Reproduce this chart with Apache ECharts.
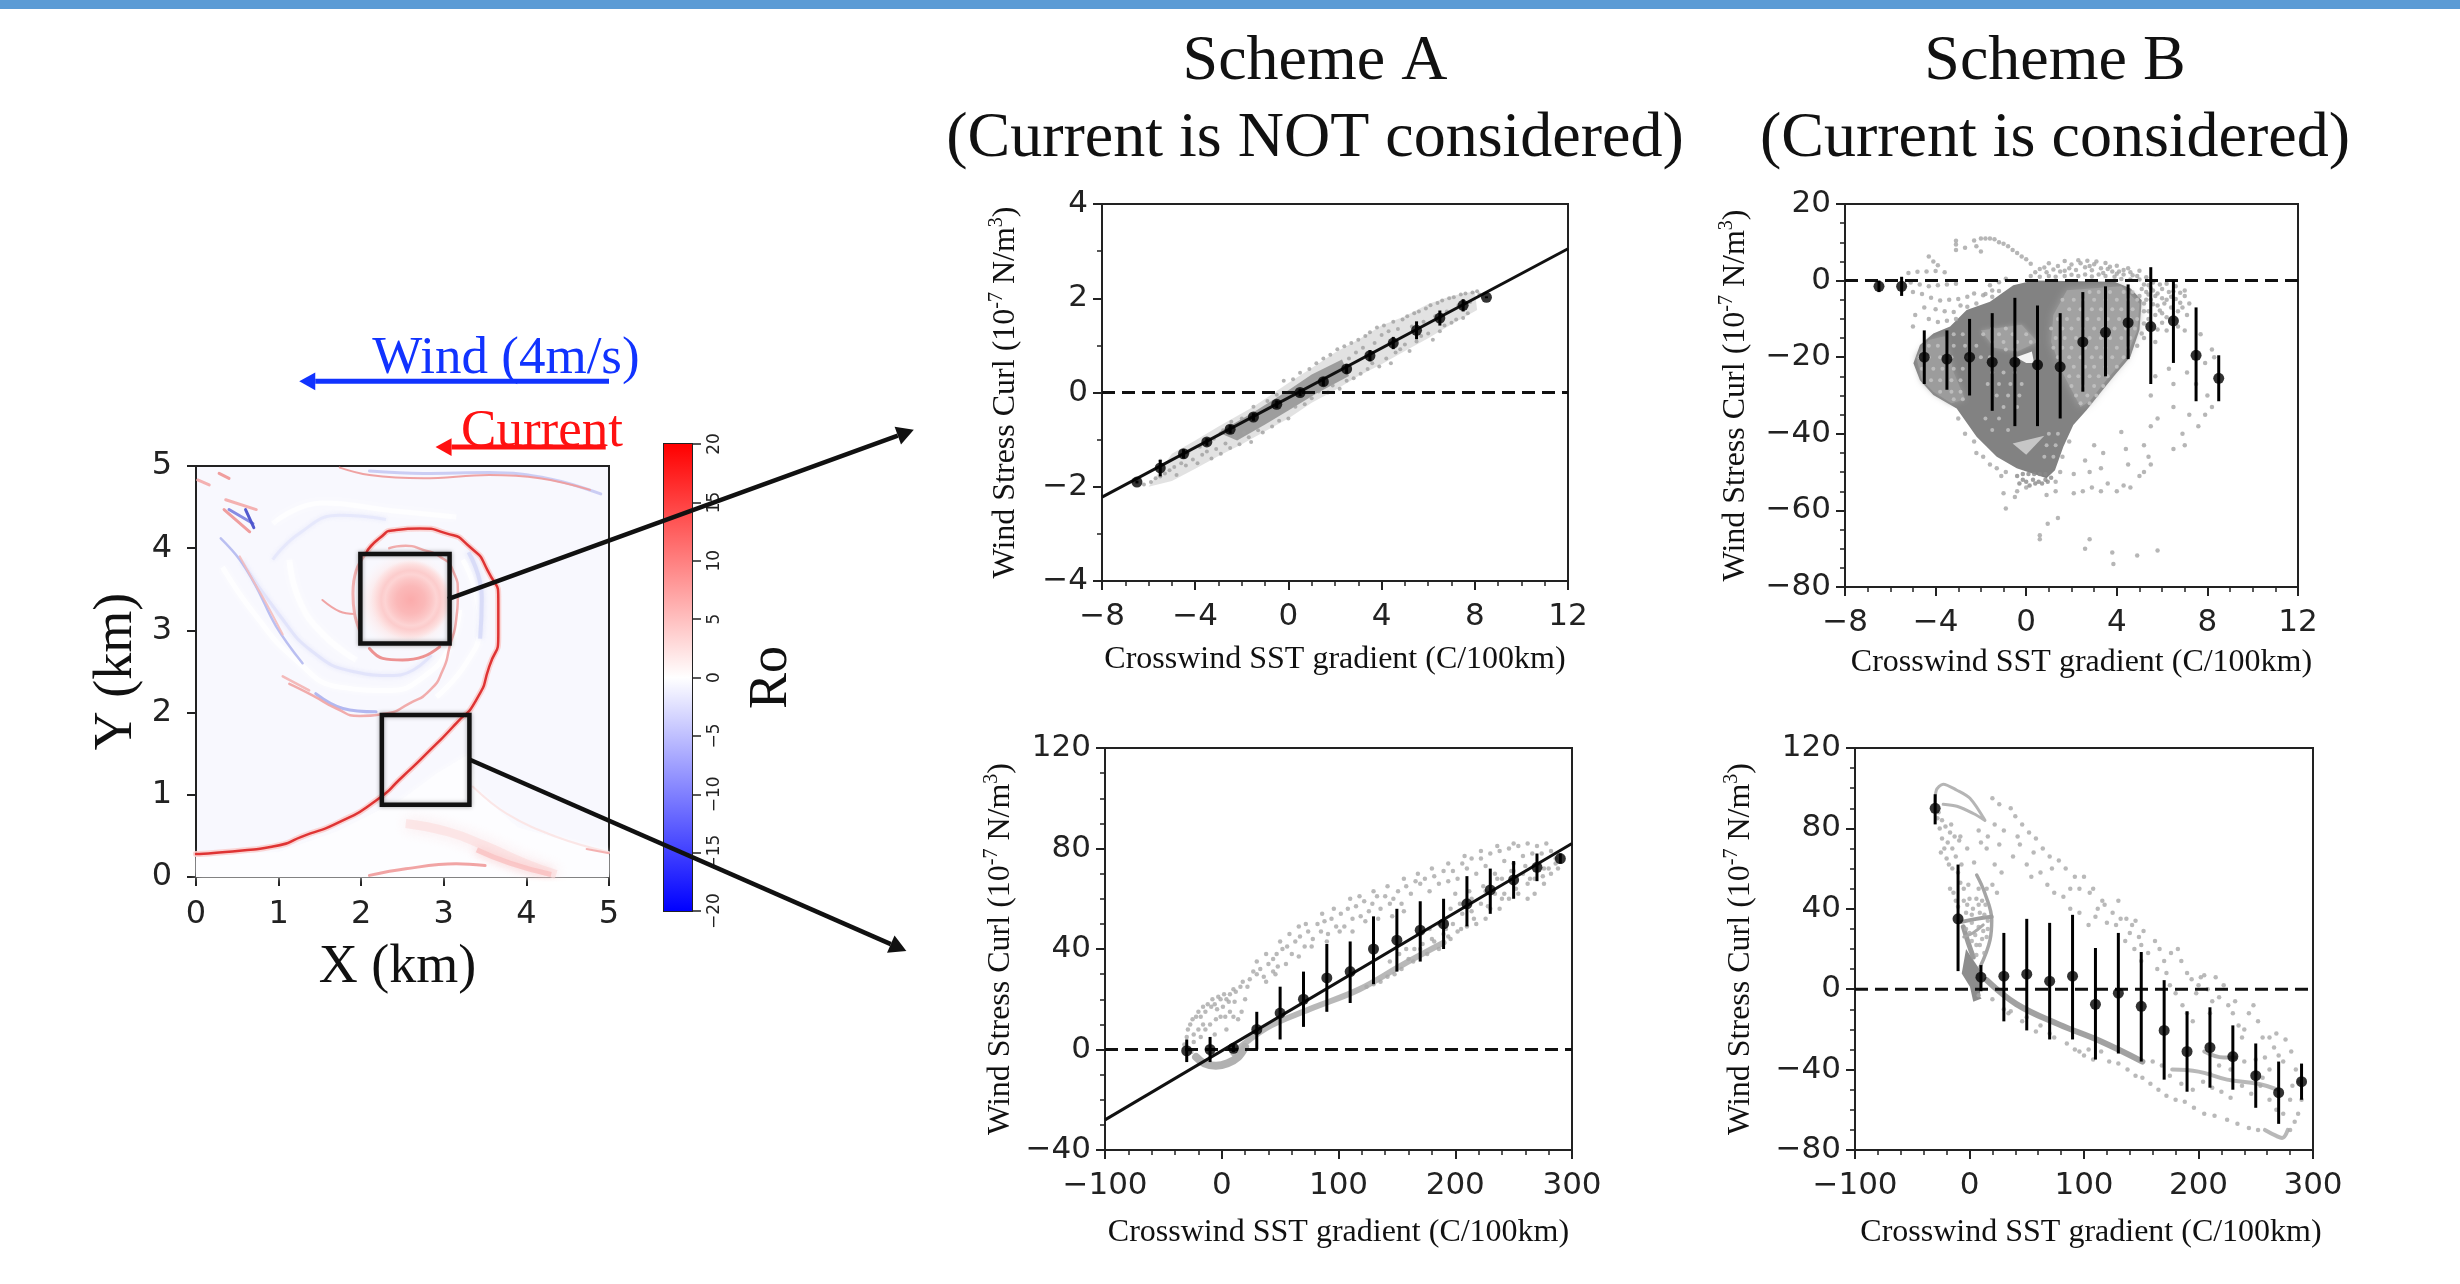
<!DOCTYPE html>
<html><head><meta charset="utf-8">
<script src="https://cdn.jsdelivr.net/npm/echarts@6/dist/echarts.min.js"></script>
<style>html,body{margin:0;padding:0;background:#fff}#c{width:2460px;height:1284px}</style>
</head><body><div id="c"></div>
<script>
// ---------- text ----------
const titleA = 'Scheme A\n(Current is NOT considered)';
const titleB = 'Scheme B\n(Current is considered)';
const xName = 'Crosswind SST gradient (C/100km)';
const yName = '{a|Wind Stress Curl (10}{s|-7}{a| N/m}{s|3}{a|)}';

// ---------- panel bins: x, mean, low, high ----------
const topBins = [-6.5,-5.5,-4.5,-3.5,-2.5,-1.5,-0.5,0.5,1.5,2.5,3.5,4.5,5.5,6.5,7.5,8.5];
const botBins = [-30,-10,10,30,50,70,90,110,130,150,170,190,210,230,250,270,290];

const a1Mean = [-1.9,-1.6,-1.3,-1.05,-0.78,-0.52,-0.25,0,0.23,0.5,0.78,1.05,1.32,1.58,1.85,2.02];
const a1Low  = [-1.93,-1.78,-1.4,-1.13,-0.87,-0.6,-0.33,-0.08,0.14,0.4,0.66,0.92,1.13,1.42,1.72,2.0];
const a1High = [-1.87,-1.43,-1.2,-0.97,-0.69,-0.44,-0.17,0.08,0.32,0.6,0.9,1.18,1.51,1.74,1.98,2.04];
const a1Fit  = [[-8,-2.22],[12,3.05]];

const b1Mean = [-1.5,-1.5,-20,-20.5,-20,-21.3,-21.3,-22,-22.5,-16,-13.5,-11,-12,-10.5,-19.5,-25.5];
const b1Low  = [-3,-4,-27,-28.5,-30,-34,-38,-38,-36,-29,-25,-20.5,-27,-21.5,-31.5,-31.5];
const b1High = [0,1,-13,-13,-10,-8.5,-4.5,-6.5,-8.5,-3,-1.5,-1,3.5,0,-7,-19.5];

const a2Mean = [-0.5,0,0.5,8,14.5,20,28.5,31,40,43.5,47.5,50,58,63.5,67.5,72.5,76];
const a2Low  = [-5,-5,-1,0,4,9,15,18.5,26,31,35,40,49,54,60,67,74];
const a2High = [4,5,2,15,25,31,42,43,53,56,59,60,69,72,75,78,78];
const a2Fit  = [[-100,-28],[300,82]];

const b2Mean = [90,35,6,6.5,7.5,4,6.5,-7.5,-2,-8.5,-20.5,-31,-29,-33.5,-43,-51.5,-46];
const b2Low  = [82,9,-1,-16,-20.5,-25,-25,-35,-32,-36,-45,-51,-49,-50,-59,-67,-55];
const b2High = [97,62,12,28,35,33,37,20.5,28,18.5,4.5,-11,-9,-18,-27,-36,-37];

// ---------- scatter clouds ----------
const a1Band = [[-6,-2],[-5,-1.3],[-4,-1.02],[-3,-0.72],[-1.5,-0.3],[0,0.2],[1,0.52],[2,0.85],[3,1.12],[4,1.42],[5,1.62],[6,1.88],[7,2.05],[8,2.15],[8.1,1.75],[7,1.45],[6,1.15],[5,0.88],[4,0.6],[3,0.35],[2,0.05],[1,-0.22],[0,-0.55],[-1,-0.82],[-2,-1.1],[-3,-1.35],[-4,-1.62],[-5,-1.88]];
const a1Core = [[-3,-0.85],[-1.5,-0.42],[0,0.05],[1,0.38],[2.3,0.7],[2.6,0.35],[1.2,-0.02],[0,-0.38],[-1,-0.68],[-2.2,-1.02]];
const a1Dots = [[-6.2,-1.95],[-5.9,-1.9],[-5.7,-1.82],[-5.5,-1.78],[-5.3,-1.72],[-5.5,-1.45],[-5.1,-1.65],[-4.9,-1.58],[-4.8,-1.75],[-4.6,-1.5],[-4.4,-1.55],[-4.3,-1.28],[-4.1,-1.42],[-3.9,-1.5],[-3.8,-1.15],[-3.7,-1.32],[-3.5,-1.25],[-3.3,-1.4],[-3.2,-0.98],[-3.1,-1.2],[-2.9,-1.3],[-2.8,-0.8],[-2.7,-1.08],[-2.5,-1.18],[-2.45,-0.62],[-2.3,-0.95],[-2.1,-1.1],[-2,-0.55],[-1.9,-0.85],[-1.7,-0.95],[-1.6,-1.05],[-1.5,-0.3],[-1.3,-0.8],[-1.1,-0.85],[-0.9,-0.18],[-0.7,-0.72],[-0.5,-0.05],[-0.4,-0.6],[-0.2,0.25],[0,-0.55],[0.2,0.28],[0.3,-0.3],[0.5,0.42],[0.7,-0.25],[0.9,0.5],[1,-0.12],[1.2,0.62],[1.3,0.02],[1.5,0.72],[1.7,0],[1.8,0.8],[1.9,0.15],[2.1,0.92],[2.2,0.08],[2.4,0.98],[2.5,0.25],[2.6,0.72],[2.7,1.05],[2.8,0.3],[2.9,0.85],[3,1.12],[3.1,0.4],[3.2,0.95],[3.3,1.2],[3.4,0.5],[3.5,1.28],[3.6,0.62],[3.7,1.05],[3.8,1.38],[3.9,0.55],[4,1.22],[4.1,1.42],[4.2,0.72],[4.3,1.3],[4.4,0.62],[4.5,1.5],[4.6,0.85],[4.7,1.35],[4.8,0.92],[4.9,1.55],[5,1.02],[5.1,1.62],[5.2,0.88],[5.3,1.4],[5.4,1.68],[5.5,1.08],[5.6,1.72],[5.7,1.2],[5.8,1.5],[5.9,1.78],[6,1.25],[6.1,1.85],[6.2,1.12],[6.3,1.62],[6.4,1.9],[6.5,1.3],[6.6,1.95],[6.7,1.42],[6.8,1.72],[6.9,2],[7,1.48],[7.1,2.02],[7.2,1.55],[7.3,1.85],[7.4,2.08],[7.5,1.58],[7.6,2.1],[7.7,1.68],[7.8,1.92],[7.9,2.12],[8.1,2.15],[8.2,2.08]];

const b1Blob = [[-4.98,-21.6],[-4.69,-16.8],[-4.1,-13.8],[-3.36,-12],[-2.63,-7.7],[-1.6,-5.5],[-0.57,-1.2],[0.32,0],[3.9,-0.3],[4.6,-2],[5.1,-5.1],[5,-12.9],[4.6,-19.9],[3.85,-25.1],[3.26,-29.4],[2.67,-33.8],[2.08,-37.7],[1.64,-43.4],[1.27,-49.5],[0.9,-51.6],[-0.42,-49],[-1.3,-46],[-2.19,-40.8],[-3.07,-33.4],[-4.1,-29.9],[-4.69,-26]];
const b1RightZone = [[1.8,-2.5],[4.2,-1.5],[5,-6],[4.9,-13],[4.4,-20],[3.6,-25.5],[2.8,-31.5],[2.4,-33],[1.6,-24],[1.1,-16],[1.2,-9]];
const b1LeftZone = [[-4.85,-20],[-4.3,-15.5],[-3.6,-14.5],[-3.2,-24],[-2.7,-31],[-3.3,-32],[-4.1,-29],[-4.6,-26]];
const b1MidZone = [[-2,-13],[-0.2,-11.5],[0.5,-16],[-0.4,-18.5],[-1.4,-17.5]];
const b1Hole = [[-0.45,-20],[0.25,-18.5],[0.35,-21.5],[0,-21.5]];
const b1Vee = [[-0.6,-42.5],[0.8,-40.5],[0,-45.5]];
const b1Speck = [[2.8,-3],[3.2,-3],[3.7,-3],[4.3,-3],[4.7,-3],[1.6,-5],[2.1,-5],[2.5,-5],[3,-5],[3.5,-5],[4,-5],[4.5,-5],[4.9,-5],[1.9,-7.5],[2.4,-7.5],[2.9,-7.5],[3.3,-7.5],[3.8,-7.5],[4.2,-7.5],[4.7,-7.5],[1.4,-10],[1.8,-10],[2.3,-10],[2.7,-10],[3.2,-10],[3.6,-10],[4.1,-10],[4.6,-10],[4.9,-10],[1.1,-12.5],[1.6,-12.5],[2,-12.5],[2.5,-12.5],[3,-12.5],[3.4,-12.5],[3.9,-12.5],[4.4,-12.5],[4.8,-12.5],[1.3,-15],[1.7,-15],[2.2,-15],[2.8,-15],[3.3,-15],[3.7,-15],[4.2,-15],[4.6,-15],[1.2,-17.5],[1.6,-17.5],[2,-17.5],[2.6,-17.5],[3.1,-17.5],[3.5,-17.5],[4,-17.5],[4.5,-17.5],[1.4,-20],[1.9,-20],[2.4,-20],[2.9,-20],[3.3,-20],[3.8,-20],[4.3,-20],[1.5,-22.5],[2.1,-22.5],[2.6,-22.5],[3,-22.5],[3.5,-22.5],[4,-22.5],[1.9,-25],[2.3,-25],[2.8,-25],[3.2,-25],[3.6,-25],[2,-27.5],[2.5,-27.5],[3,-27.5],[3.4,-27.5],[2.2,-30],[2.7,-30],[3.1,-30],[2.4,-32],[2.8,-32],[-1.5,-12.5],[-0.9,-12.5],[-1.9,-14],[-1.2,-14],[-0.6,-14],[0,-14],[-1.5,-16],[-1,-16],[-0.4,-16],[0.2,-16],[-0.9,-18],[-0.5,-18],[-4.3,-17],[-3.9,-17],[-4.7,-20],[-4.3,-20],[-3.8,-20],[-3.3,-20],[-4.6,-23],[-4.1,-23],[-3.7,-23],[-3.2,-23],[-2.8,-23],[-4.2,-26],[-3.8,-26],[-3.3,-26],[-2.9,-26],[-3.8,-29],[-3.3,-29],[-2.9,-29],[-3.2,-31],[-2.8,-31],[-3.2,-14],[-2.8,-14],[-3.2,-17],[-2.7,-17],[-2.2,-17],[-2.6,-20],[-2,-20],[-1.6,-20],[-1.5,-24],[-1,-24],[-0.5,-24],[-1.7,-27],[-1.2,-27],[-0.7,-27],[-0.2,-27],[-1.3,-30],[-0.8,-30],[-0.3,-30],[-1,-33],[-0.4,-33],[-1.8,-36],[-1.2,-36],[-1.5,-39],[-0.8,-39],[1,-40],[1.4,-40],[0.9,-43],[1.3,-43],[0.8,-46],[1.2,-46]];
const b1Dots = [[-3.1,10.4],[-3.1,9.4],[-3.1,8],[-2.3,10.5],[-2,11],[-1.8,11],[-1.6,11],[-1.4,10.8],[-1.2,10],[-1,9.6],[-0.8,9],[-0.6,8],[-0.4,7.2],[-0.2,6.3],[0,5.6],[-2.2,9],[-2,7.6],[-2.7,8.6],[-4.3,6.3],[-4.1,5],[-3.9,4],[-5.2,2],[-4.8,2.3],[-4.4,2.4],[-4,2.5],[-3.6,2.2],[-5.1,-0.5],[-4.7,-1],[-4.3,-1.5],[-3.9,-1.2],[-3.5,-1],[-3.1,-0.8],[-5,-3],[-4.6,-3.5],[-4.2,-4.5],[-3.8,-5.2],[-3.4,-5],[-3,-4.8],[-2.6,-4.2],[-2.3,-3.4],[-4.5,-7],[-4,-7.5],[-3.6,-8],[-3.2,-8.2],[-2.9,-6.5],[-2.6,-6.8],[-4.9,-9],[-4.3,-10],[-3.9,-10.8],[-3.5,-10.5],[-3.1,-10],[-5,-12],[-1.9,-3.8],[-1.5,-4.2],[-1.2,-2.7],[-1.6,-1.2],[-1.2,-0.4],[-0.9,0.5],[-2.2,-6],[-1.8,-3.5],[-1.5,-2.6],[0.2,4.4],[0.6,3],[0.9,2.2],[1,4.5],[1.4,3.8],[1.7,2.6],[1.7,5.1],[2,4.2],[2.3,5.3],[2.6,3.5],[2.7,5.2],[3,4.3],[3.3,3.2],[3.5,4.6],[3.8,2.4],[4,3.9],[4.3,1.6],[4.5,3.2],[4.7,1.4],[5,2.6],[5.3,0.9],[0.2,1.2],[0.6,1],[1,1.2],[1.3,1],[1.7,1.2],[2,1.5],[2.3,1.2],[2.6,1.6],[2.9,1.1],[3.2,1.6],[3.5,1.2],[3.9,1],[4.2,0.4],[4.6,0.3],[5,0.3],[1.5,2.4],[2.2,2.8],[2.9,2.7],[3.6,3],[4.1,2.4],[0.4,2.2],[0.8,3.4],[1.2,2.9],[1.9,3.2],[2.4,4.5],[2.8,3.8],[3.1,5],[3.4,2],[3.7,3.6],[4,1.8],[4.3,2.8],[4.6,2.2],[4.9,1.2],[5.5,-2],[5.7,-4],[5.9,-1],[6.1,-6],[6.3,-3],[6.6,-4.8],[6.9,-7],[7.1,-9],[5.3,-3],[5.2,-6],[5.5,-5],[5.8,-6.5],[5.4,-8],[6,-8.5],[6.4,-7],[6.7,-8],[5.2,-1],[5.6,-0.5],[6.2,-0.8],[6.6,-1.5],[7,-4],[7.2,-6],[5,-4],[5.2,-8],[5.4,-10],[5.7,-9],[6,-11],[6.2,-13],[6.7,-12],[7,-13],[5.1,-2.2],[5.4,-1.2],[5.4,-3.6],[5.6,-2.6],[5.8,-3.4],[6,-2.2],[6,-4.6],[6.2,-5],[6.4,-4.2],[6.5,-2.8],[6.8,-3.2],[6.8,-5.8],[7,-2.6],[5.3,-5],[5.6,-6.2],[5.9,-7.8],[6.2,-9.6],[6.5,-10.2],[5.2,-11.2],[5.5,-12],[5.8,-12.8],[5.1,-13.8],[7.7,-14],[8.2,-18],[8.3,-20],[7.9,-21.5],[5.7,-16],[5.2,-15],[4.9,-17],[6.3,-23],[6.5,-27],[5.7,-25],[7.1,-24],[7.5,-27],[8,-30],[8.2,-33],[7.9,-35],[6.5,-33],[7.2,-35],[7.6,-38],[5.8,-36],[5.5,-30],[5.5,-38],[6.9,-40],[7,-43],[6.5,-44],[5.4,-46],[4.2,-39.5],[4.4,-44],[5.2,-43],[3.4,-45],[3.3,-49],[4.5,-48],[5.5,-48],[5,-51],[5.2,-50],[3,-43],[2.6,-47],[2.1,-50.5],[2.8,-50],[2.1,-55.5],[2.5,-55],[2.9,-54],[3.3,-55],[3.6,-53],[4,-55],[4.3,-53.5],[4.6,-54],[1.3,-55],[0.9,-56],[-0.4,-55],[0,-54],[-1,-55.5],[-0.5,-56.5],[-0.9,-59.5],[0.95,-63.5],[1.4,-62],[0.6,-66.5],[0.6,-67.5],[2.6,-70],[2.8,-67.5],[3.8,-71],[3.85,-74],[4.9,-71.8],[5.8,-70.5],[-3,-36],[-2.7,-40],[-2.3,-42],[-2.2,-45],[-1.9,-46],[-1.6,-48],[-1.3,-49],[-1.1,-51],[-0.9,-50],[1.6,-46],[1.9,-42],[1.5,-50],[1.3,-52.5]];
const b1Fan = [[-0.3,-53],[-0.15,-52],[0,-52.5],[0.15,-53.5],[0.3,-52],[0.4,-53],[0.55,-52.5],[0.7,-53],[0.85,-52],[0.95,-52.5],[1.1,-51.5],[-0.4,-51],[-0.15,-50.5],[0.1,-50.5],[0.35,-50.5],[0.6,-50.5],[0.85,-50.5]];

const a2Crescent = [[-22,-3],[-15,-5.5],[-5,-6.5],[5,-5.5],[14,-3],[20,1]];
const a2Lower = [[10,-1.5],[38,8.5],[75,16],[118,24],[154,33.5],[190,42.5]];
const a2Dots = [[-32,2],[-30,5],[-29,8],[-27,10],[-25,12],[-22,13],[-20,15],[-18,13],[-16,17],[-14,15],[-12,18],[-9,17],[-8,20],[-6,18],[-3,21],[-1,20],[2,22],[4,20],[7,22],[10,24],[-24,6],[-18,5],[-14,8],[-10,10],[-5,12],[-1,13],[3,13],[7,15],[10,13],[14,12],[11,19],[17,15],[20,20],[24,28],[27,31],[30,30],[33,32],[36,29],[40,34],[44,36],[47,38],[44,31],[48,33],[52,40],[56,41],[60,38],[63,43],[67,45],[71,41],[74,47],[78,44],[82,50],[85,47],[88,51],[91,46],[94,52],[98,49],[102,54],[105,49],[108,56],[112,52],[115,57],[119,53],[122,59],[126,55],[129,58],[133,61],[136,56],[140,61],[144,58],[147,60],[151,63],[154,58],[158,65],[162,62],[166,67],[170,66],[174,68],[178,63],[182,69],[186,66],[190,71],[194,67],[198,71],[202,68],[206,74],[210,72],[214,76],[218,70],[222,76],[226,73],[230,78],[234,70],[238,79],[242,75],[246,80],[250,74],[254,81],[258,77],[262,82],[266,78],[270,81],[274,78],[278,82],[282,79],[286,76],[288,72],[282,70],[276,66],[272,74],[268,68],[262,66],[258,70],[254,62],[250,66],[246,60],[242,62],[238,56],[234,62],[230,56],[226,52],[222,58],[218,50],[214,55],[210,49],[206,54],[202,47],[198,50],[194,45],[190,46],[186,40],[180,44],[176,38],[170,40],[164,35],[160,36],[154,32],[148,30],[142,29],[136,27],[130,26],[124,25],[262,60],[268,62],[275,69],[280,72],[286,74],[38,27],[46,30],[55,34],[66,37],[77,41],[90,43],[101,47],[112,47],[123,51],[134,52],[146,53],[156,55],[200,62],[212,63],[224,65],[236,68],[248,71],[260,73],[196,44],[205,48],[216,52],[228,57],[240,60],[252,64],[264,68],[276,72],[165,40],[172,42],[182,43],[192,48],[-28,0],[-26,-1],[-24,3],[-20,8],[-16,10],[-6,6],[4,8],[-4,16],[1,17],[6,19],[12,23],[16,25],[22,25],[18,27],[30,35],[38,38],[50,43],[58,46],[66,49],[72,50],[86,54],[96,56],[110,60],[118,61],[130,63],[142,65],[156,68],[168,70],[180,72],[194,74],[208,77],[222,79],[236,81],[250,82],[144,35],[152,38],[158,40],[168,46],[178,48],[186,50],[196,56],[204,58],[214,60],[226,63],[240,68],[250,71]];

const b2WedgeDark = [[-6.8,7.8],[-3,20],[0.4,17],[9.2,9.5],[9.2,-3.8],[10.6,-4.6],[3.3,-6.3],[0.4,1.2]];
const b2Mesh1 = [[-6.8,33.5],[6,35],[19.4,36]];
const b2Mesh2 = [[-5.4,31],[-1,23],[3.3,16]];
const b2Mesh3 = [[-5,26],[3,28],[12,32]];
const b2Arc = [[6.3,56.8],[13.5,47.6],[19.4,34.4],[17.9,24.4],[9.2,11]];
const b2LoopTop = [[-30,92],[-29,99],[-23,102],[-11,99],[0.4,95],[13.5,84],[3.3,87.4],[-11,91],[-23,92]];
const b2LowerLine = [[15,4.5],[41,-7.4],[78,-17.5],[115,-26],[151,-36]];
const b2Lower2 = [[177,-40],[200,-41],[225,-45],[252,-47],[269,-50]];
const b2Bottom = [[258,-70],[268,-73],[273,-74],[278,-70]];
const b2Inner = [[205,-31],[222,-34],[232,-34]];
const b2Dots = [[-28,85],[-26,80],[-24,75],[-22,70],[-20,65],[-18,62],[-15,70],[-12,66],[-10,58],[-8,53],[-5,50],[-17,50],[-14,48],[-12,44],[-10,41],[-2,42],[2,37],[6,45],[8,50],[-27,88],[-24,84],[-21,81],[-17,78],[-13,76],[-9,74],[-19,73],[-25,68],[-15,60],[-7,62],[11,44],[15,50],[20,52],[24,48],[20,95],[26,92],[36,90],[40,86],[46,82],[52,78],[58,75],[64,70],[70,66],[78,64],[84,60],[92,56],[96,50],[100,56],[105,48],[108,50],[112,40],[116,44],[120,33],[125,38],[128,32],[132,35],[137,35],[140,28],[145,34],[148,26],[152,29],[156,18],[162,24],[166,20],[170,14],[176,18],[182,20],[185,14],[190,8],[194,5],[198,-2],[202,6],[205,7],[208,0],[212,-6],[215,6],[218,-4],[222,2],[226,-8],[230,-12],[235,-18],[238,-24],[244,-12],[248,-8],[252,-16],[256,-24],[258,-34],[262,-40],[266,-29],[270,-33],[276,-25],[281,-31],[285,-40],[288,-46],[290,-55],[287,-62],[284,-66],[280,-70],[8,-3],[20,-5],[30,-10],[36,-11],[50,-14],[62,-18],[70,-22],[85,-27],[92,-30],[100,-33],[108,-35],[115,-31],[122,-36],[130,-37],[138,-40],[145,-43],[151,-44],[158,-47],[165,-50],[172,-53],[180,-55],[188,-56],[196,-59],[205,-62],[214,-63],[225,-65],[234,-67],[244,-69],[252,-70],[160,-36],[168,-38],[175,-43],[185,-47],[195,-50],[204,-46],[212,-49],[220,-51],[228,-54],[238,-48],[246,-52],[250,-42],[254,-48],[210,-42],[218,-38],[228,-40],[240,-36],[250,-35],[256,-44],[262,-55],[268,-60],[274,-62],[280,-55],[15,70],[22,62],[28,58],[16,76],[22,82],[26,72],[10,73],[4,63],[-2,70],[-8,76],[-16,82],[8,79],[44,72],[38,66],[50,62],[54,56],[62,58],[68,52],[74,48],[82,46],[88,40],[96,38],[104,32],[130,44],[136,24],[144,20],[150,14],[175,2],[180,-2],[186,-8],[190,-12],[195,-16],[30,79],[42,76],[56,68],[72,60],[88,50],[110,36],[118,42],[142,32],[150,22],[164,10],[172,8],[200,2],[210,-12],[232,-6],[240,-20],[262,-24],[268,-22],[274,-36],[282,-48],[34,-12],[46,-16],[58,-21],[74,-24],[96,-31],[104,-30]];
const b2WedgeDots = [[0,45],[3,40],[8,42],[-3,38],[2,33],[8,31],[13,37],[12,29],[16,30],[5,27],[9,22],[13,18],[6,17],[-1,52],[-5,44],[0,28],[-3,30],[2,24],[9,38],[14,42],[16,34],[11,25],[6,22],[15,26]];

// ---------- map panel (km) ----------
const mapSpiral = [[0,0.28],[0.53,0.32],[0.93,0.37],[1.33,0.51],[1.74,0.67],[2.18,0.93],[2.5,1.22],[2.83,1.54],[3.15,1.87],[3.39,2.15],[3.55,2.56],[3.66,2.96],[3.66,3.33],[3.53,3.73],[3.31,4.02],[3.03,4.18],[2.71,4.24],[2.42,4.22],[2.22,4.12],[2.06,3.94]];
const mapSpiralEnd = [[2.06,3.94],[1.94,3.73],[1.9,3.45],[1.92,3.2],[1.98,3]];
const mapInner = [[2.34,4],[2.54,4.03],[2.75,3.98],[2.95,3.9],[3.11,3.73],[3.17,3.45],[3.15,3.13],[3.07,2.8],[2.99,2.52],[2.83,2.27],[2.58,2.11],[2.3,1.99],[1.98,1.96],[1.7,2.05],[1.41,2.21],[1.13,2.35]];
const mapUnder = [[2.1,2.78],[2.26,2.66],[2.5,2.64],[2.75,2.68],[2.95,2.8]];
const mapStem = [[1.53,3.37],[1.74,3.23],[1.92,3.2]];
const mapRedLeft = [[0.53,3.9],[0.69,3.61],[0.85,3.33],[1.05,2.95]];
const mapBlueLeft = [[0.3,4.12],[0.53,3.86],[0.73,3.53],[0.97,3.05],[1.29,2.6]];
const mapBlueLow = [[1.45,2.23],[1.78,2.05],[2.18,2.01]];
const mapRedLow = [[1.05,2.44],[1.37,2.27]];
const mapTopRed = [[1.74,4.98],[2.1,4.89],[2.75,4.85],[3.55,4.89],[4.16,4.85],[4.77,4.71]];
const mapTopBlue = [[2.1,4.94],[2.75,4.91],[3.55,4.92],[4.3,4.84],[4.9,4.66]];
const mapRightFaint = [[3.35,1.1],[3.76,0.77],[4.36,0.49],[5,0.3]];
const mapRightPink = [[4.73,0.34],[5,0.29]];
const mapFloor = [[2.1,0.02],[2.54,0.1],[3.15,0.16],[3.5,0.14]];
const mapGlow1 = [[2.54,0.65],[3.05,0.55],[3.5,0.38],[4,0.16],[4.36,0.03]];
const mapGlow2 = [[3.4,0.33],[3.8,0.17],[4.3,0.03]];
const mapStripeBlue = [[0.4,4.47],[0.69,4.3]];
const mapStripeBlue2 = [[0.6,4.47],[0.7,4.25]];
const mapStripeRed1 = [[0.36,4.59],[0.73,4.47]];
const mapStripeRed2 = [[0.34,4.47],[0.65,4.2]];
const mapStripeRed3 = [[0.02,4.83],[0.16,4.77]];
const mapStripeRed4 = [[0.28,4.91],[0.4,4.85]];
const mapLane1 = [[0.32,3.77],[0.73,3.17],[1.21,2.64],[1.74,2.31],[2.34,2.27],[2.75,2.43],[3.07,2.8],[3.19,3.25]];
const mapLane2 = [[3.23,3.86],[3.39,3.45],[3.43,3.04],[3.27,2.6],[2.91,2.19]];
const mapLane3 = [[1.13,3.86],[1.25,3.37],[1.53,2.96],[1.94,2.64]];
const mapLane4 = [[0.93,4.3],[1.53,4.55],[2.34,4.46],[3.15,4.38]];
const mapLav1 = [[0.55,3.85],[1,3.2],[1.4,2.75],[1.9,2.5],[2.4,2.45],[2.85,2.7]];
const mapLav2 = [[3.3,3.95],[3.46,3.4],[3.44,2.9]];
const mapLav3 = [[0.93,3.86],[1.25,4.18],[1.74,4.4],[2.3,4.35]];
const mapWhite = [[0,0.27],[1,0.3],[1.7,0.55],[2.5,0.95],[2.9,1.25],[3.31,1.5],[3.4,1.05],[3.9,0.6],[5,0.3],[5,0],[0,0]];
const mapHalo = [[2.55,3.35]];
const mapCore = [[2.6,3.37]];
const box1 = [[1.99,2.84],[3.07,3.93]];
const box2 = [[2.25,0.88],[3.31,1.97]];
const pointer1 = [[3.05,3.38],[8.69,5.44]];
const pointer2 = [[3.31,1.43],[8.6,-0.9]];
const windArrow = [[5,6.03],[1.25,6.03]];
const currentArrow = [[4.96,5.23],[2.9,5.23]];
const roRange = [[0,-20],[1,20]];
const roColors = ['#0000ff','#ffffff','#ff0000'];

// ---------- helpers ----------
const SANS = '"DejaVu Sans"', SERIF = '"Liberation Serif"';
const INK = '#222';
const minus = v => String(v).replace('-', '\u2212');

function val(extra){
  return Object.assign({type:'value', axisLine:{show:true,onZero:false,lineStyle:{color:INK,width:2}},
    axisTick:{show:true,length:9,lineStyle:{color:INK,width:2}},
    minorTick:{show:false}, splitLine:{show:false}, minorSplitLine:{show:false},
    axisLabel:{fontFamily:SANS,fontSize:31,color:'#222',margin:14,formatter:minus}}, extra);
}
function minor(n){return {show:true,splitNumber:n,length:5,lineStyle:{color:INK,width:1.5}};}
function panelX(g,min,max,interval,n,gap,padLeft){
  const o=val({gridIndex:g,min,max,interval,minorTick:minor(n),
    name:xName,nameLocation:'middle',nameGap:gap,nameTextStyle:{fontFamily:SERIF,fontSize:32,color:'#111',padding:[0,0,0,padLeft||0]}});
  o.axisLabel=Object.assign({},o.axisLabel,{margin:20});
  return o;
}
function panelY(g,min,max,interval,n,gap){
  return val({gridIndex:g,min,max,interval,minorTick:minor(n),
    name:yName,nameLocation:'middle',nameGap:gap,
    nameTextStyle:{fontFamily:SERIF,color:'#111',rich:{a:{fontFamily:SERIF,fontSize:32,lineHeight:38,color:'#111'},
      s:{fontFamily:SERIF,fontSize:20,lineHeight:38,verticalAlign:'top',color:'#111'}}}});
}
function on(g,o){return Object.assign({xAxisIndex:g,yAxisIndex:g,silent:true,animation:false},o);}
function dots(g,d,color,size,z){return on(g,{type:'scatter',data:d,symbolSize:size||4,itemStyle:{color:color||'#a6a6a6'},z:z||3});}
function poly(g,d,fill,z,blur){
  return on(g,{type:'custom',data:d,z:z||2,encode:{x:0,y:1},renderItem(p,api){
    if(p.dataIndex>0) return null;
    return {type:'polygon',shape:{points:d.map(c=>api.coord(c))},style:{fill,shadowBlur:blur||0,shadowColor:fill}};
  }});
}
function curve(g,d,color,width,opacity,z,smooth){
  return on(g,{type:'line',data:d,symbol:'none',smooth:smooth===undefined?0.4:smooth,clip:false,z:z||3,
    lineStyle:{color,width,opacity:opacity===undefined?1:opacity,cap:'round',join:'round'}});
}
function soft(g,d,color,width,opacity,blur){
  return on(g,{type:'line',data:d,symbol:'none',smooth:0.5,clip:true,z:2,
    lineStyle:{color,width,opacity,cap:'butt',shadowBlur:blur,shadowColor:color}});
}
function zeroLine(g,xmin,xmax){
  return on(g,{type:'line',data:[[xmin,0],[xmax,0]],symbol:'none',z:5,lineStyle:{color:'#111',width:3,type:[13,7]}});
}
function fitLine(g,d){return on(g,{type:'line',data:d,symbol:'none',z:6,lineStyle:{color:'#111',width:3}});}
function errBars(g,xs,lo,hi){
  const d=xs.map((x,i)=>[x,lo[i],hi[i]]);
  return on(g,{type:'custom',data:d,z:7,encode:{x:0,y:[1,2]},renderItem(p,api){
    const a=api.coord([api.value(0),api.value(1)]),b=api.coord([api.value(0),api.value(2)]);
    return {type:'line',shape:{x1:a[0],y1:a[1],x2:b[0],y2:b[1]},style:{stroke:'#000',lineWidth:3}};
  }});
}
function means(g,xs,ys){return on(g,{type:'scatter',data:xs.map((x,i)=>[x,ys[i]]),symbolSize:11,itemStyle:{color:'#000'},z:8});}
function rect(g,b){
  return on(g,{type:'custom',data:b,z:10,encode:{x:0,y:1},renderItem(p,api){
    if(p.dataIndex>0) return null;
    const a=api.coord(b[0]),c=api.coord(b[1]);
    return {type:'rect',shape:{x:a[0],y:c[1],width:c[0]-a[0],height:a[1]-c[1]},
      style:{fill:'none',stroke:'#111',lineWidth:4.5,shadowBlur:4,shadowColor:'rgba(0,0,0,0.35)'}};
  }});
}
function arrow(g,seg,color,w,head){
  return on(g,{type:'custom',data:seg,z:20,encode:{x:0,y:1},renderItem(p,api){
    if(p.dataIndex>0) return null;
    const a=api.coord(seg[0]),b=api.coord(seg[1]);
    const t=Math.atan2(b[1]-a[1],b[0]-a[0]);
    const L=head,W=head*0.55;
    const bx=b[0]-L*Math.cos(t),by=b[1]-L*Math.sin(t);
    const nx=-Math.sin(t)*W,ny=Math.cos(t)*W;
    return {type:'group',children:[
      {type:'line',shape:{x1:a[0],y1:a[1],x2:bx,y2:by},style:{stroke:color,lineWidth:w}},
      {type:'polygon',shape:{points:[[b[0],b[1]],[bx+nx,by+ny],[bx-nx,by-ny]]},style:{fill:color}}]};
  }});
}
function blob(g,d,rx,ry,stops){
  return on(g,{type:'custom',data:d,z:2,encode:{x:0,y:1},renderItem(p,api){
    const c=api.coord([api.value(0),api.value(1)]);
    return {type:'ellipse',shape:{cx:c[0],cy:c[1],rx,ry},style:{fill:new echarts.graphic.RadialGradient(0.5,0.5,0.5,stops)}};
  }});
}

// grids: 0 map, 1 colourbar, 2 A-top, 3 B-top, 4 A-bottom, 5 B-bottom
const grids = [
 {left:196,width:413,top:466,height:411},
 {left:664,width:28,top:444,height:467},
 {left:1102,width:466,top:204,height:377},
 {left:1845,width:453,top:204,height:383},
 {left:1105,width:467,top:748,height:402},
 {left:1855,width:458,top:748,height:402}
].map(g=>Object.assign(g,{show:true,borderColor:INK,borderWidth:2,backgroundColor:'transparent'}));
grids[0].backgroundColor='#f8f8fe';

const xAxes = [
 val({gridIndex:0,min:0,max:5,interval:1,name:'X (km)',nameLocation:'middle',nameGap:64,nameTextStyle:{fontFamily:SERIF,fontSize:54,color:'#111',padding:[0,10,0,0]},
   axisLabel:{fontFamily:SANS,fontSize:32,color:'#222',margin:22,formatter:minus}}),
 {type:'value',gridIndex:1,min:0,max:1,show:false},
 panelX(2,-8,12,4,4,63), panelX(3,-8,12,4,4,60,20), panelX(4,-100,300,100,5,67), panelX(5,-100,300,100,5,67,14)
];
const yAxes = [
 val({gridIndex:0,min:0,max:5,interval:1,name:'Y (km)',nameLocation:'middle',nameGap:52,nameTextStyle:{fontFamily:SERIF,fontSize:54,color:'#111'},
   axisLabel:{fontFamily:SANS,fontSize:32,color:'#222',margin:24,formatter:minus}}),
 val({gridIndex:1,min:-20,max:20,interval:5,position:'right',
   axisTick:{show:true,length:9,lineStyle:{color:INK,width:1.5}},
   axisLabel:{fontFamily:SANS,fontSize:17,color:'#222',rotate:90,margin:14,formatter:minus},
   name:'Ro',nameLocation:'middle',nameGap:53,nameRotate:90,nameTextStyle:{fontFamily:SERIF,fontSize:54,color:'#111'}}),
 panelY(2,-4,4,2,2,77), panelY(3,-80,20,20,4,90), panelY(4,-40,120,40,4,85), panelY(5,-80,120,40,4,95)
];

const series = [
 // map
 poly(0,mapWhite,'#fdfdff',2,6),
 soft(0,mapLane1,'#ffffff',5,0.8,6),soft(0,mapLane2,'#ffffff',5,0.8,6),soft(0,mapLane3,'#ffffff',6,0.7,8),soft(0,mapLane4,'#ffffff',5,0.7,8),
 soft(0,mapLav1,'#dfe1fa',3,0.8,4),soft(0,mapLav2,'#d5d8f8',4,0.8,5),soft(0,mapLav3,'#e4e6fb',3,0.8,4),
 blob(0,mapHalo,50,54,[{offset:0,color:'rgba(252,210,210,0.9)'},{offset:0.7,color:'rgba(253,228,228,0.7)'},{offset:1,color:'rgba(255,244,244,0)'}]),
 blob(0,mapCore,40,44,[{offset:0,color:'#fbabab'},{offset:0.35,color:'#fbb8b8'},{offset:0.52,color:'#fcc6c6'},{offset:0.64,color:'#fdd4d4'},{offset:0.74,color:'#fccccc'},{offset:0.88,color:'#fddede'},{offset:1,color:'rgba(253,228,228,0)'}]),
 soft(0,mapGlow1,'#fcdcdc',9,0.6,14),soft(0,mapGlow2,'#f9bdbd',5,0.75,10),
 curve(0,mapBlueLeft,'#aab0ee',2.5,0.8),curve(0,mapTopBlue,'#c3c6f2',3,0.85),curve(0,mapBlueLow,'#aab0ee',3,0.9),
 curve(0,mapStripeBlue,'#7a80e0',3,0.9),curve(0,mapStripeBlue2,'#4a52cc',3,0.95),
 curve(0,mapRedLeft,'#f4bcbc',2,0.9),curve(0,mapTopRed,'#ee9d9d',2,0.95),curve(0,mapRedLow,'#f3b2b2',2.5,0.9),
 curve(0,mapRightFaint,'#fbe3e3',2,0.9),curve(0,mapRightPink,'#f3a8a8',2,0.9),curve(0,mapFloor,'#ef9a9a',3,0.9),
 curve(0,mapStripeRed1,'#f3a9a9',3,0.9),curve(0,mapStripeRed2,'#ee9393',3,0.9),curve(0,mapStripeRed3,'#f3a9a9',3,0.9),curve(0,mapStripeRed4,'#ee9393',3,0.9),
 curve(0,mapStem,'#ee9a9a',2,0.9),
 curve(0,mapInner,'#f0a8a8',2.5,0.95,3,0.6),curve(0,mapUnder,'#ec8c8c',3,0.95),curve(0,mapSpiralEnd,'#f1aeae',3,0.95),
 curve(0,mapSpiral,'#f9cfcf',6,0.9,3,0.7),curve(0,mapSpiral,'#df3434',2.5,1,4,0.7),
 rect(0,box1),rect(0,box2),
 arrow(0,pointer1,'#111',4.5,17),arrow(0,pointer2,'#111',4.5,17),
 arrow(0,windArrow,'#1133ff',5,16),arrow(0,currentArrow,'#ff1111',5,16),
 // colourbar
 on(1,{type:'custom',data:roRange,z:2,encode:{x:0,y:1},renderItem(p,api){
   if(p.dataIndex>0) return null;
   const a=api.coord(roRange[0]),b=api.coord(roRange[1]);
   return {type:'rect',shape:{x:a[0],y:b[1],width:b[0]-a[0],height:a[1]-b[1]},
     style:{fill:new echarts.graphic.LinearGradient(0,1,0,0,roColors.map((c,i)=>({offset:i/(roColors.length-1),color:c})))}};
 }}),
 // A-top
 poly(2,a1Band,'rgba(190,190,190,0.45)'),poly(2,a1Core,'rgba(140,140,140,0.8)'),
 dots(2,a1Dots,'#a0a0a0'),zeroLine(2,-8,12),fitLine(2,a1Fit),errBars(2,topBins,a1Low,a1High),means(2,topBins,a1Mean),
 // B-top
 poly(3,b1Blob,'#828282',2),poly(3,b1RightZone,'#a2a2a2',2,8),poly(3,b1LeftZone,'#9c9c9c',2,6),poly(3,b1MidZone,'#a0a0a0',2,5),
 poly(3,b1Hole,'#f4f4f4',3),poly(3,b1Vee,'#c6c6c6',3),
 dots(3,b1Speck,'#c6c6c6',4),dots(3,b1Dots,'#a4a4a4',4.5),dots(3,b1Fan,'#8a8a8a',4.5),zeroLine(3,-8,12),errBars(3,topBins,b1Low,b1High),means(3,topBins,b1Mean),
 // A-bottom
 curve(4,a2Crescent,'#a9a9a9',8,0.9),curve(4,a2Lower,'#b0b0b0',6,0.9),
 dots(4,a2Dots,'#a8a8a8',4.5),zeroLine(4,-100,300),fitLine(4,a2Fit),errBars(4,botBins,a2Low,a2High),means(4,botBins,a2Mean),
 // B-bottom
 poly(5,b2WedgeDark,'#8c8c8c'),
 curve(5,b2Arc,'#a0a0a0',3.5,0.95),curve(5,b2Mesh1,'#9a9a9a',4,0.95),curve(5,b2Mesh2,'#969696',5,0.95),curve(5,b2Mesh3,'#a6a6a6',3,0.95),
 curve(5,b2LoopTop,'#adadad',3,0.9,3,0.3),curve(5,b2LowerLine,'#9c9c9c',6,0.95),curve(5,b2Lower2,'#b0b0b0',4,0.9),
 curve(5,b2Bottom,'#b0b0b0',4,0.9),curve(5,b2Inner,'#a8a8a8',4,0.9),
 dots(5,b2Dots,'#a8a8a8',4.5),dots(5,b2WedgeDots,'#aaaaaa',4.5),zeroLine(5,-100,300),errBars(5,botBins,b2Low,b2High),means(5,botBins,b2Mean)
];

const heading = (text,left,top,size,color,align) => ({text,left,top,textAlign:align||'center',
  textStyle:{fontFamily:SERIF,fontWeight:'normal',fontSize:size,lineHeight:77,color:color||'#111'}});

const option = {
  backgroundColor:'#fff', animation:false,
  title:[heading(titleA,1310,19,64),heading(titleB,2050,19,64),
    heading('Wind (4m/s)',501,316,53,'#1133ff'),heading('Current',537,389,53,'#ff1111')],
  grid:grids,xAxis:xAxes,yAxis:yAxes,series,
  graphic:[{type:'rect',left:0,top:0,shape:{width:2460,height:9},style:{fill:'#5b9bd5'},silent:true}]
};
const chart = echarts.init(document.getElementById('c'),null,{renderer:'canvas'});
chart.setOption(option);
</script></body></html>
